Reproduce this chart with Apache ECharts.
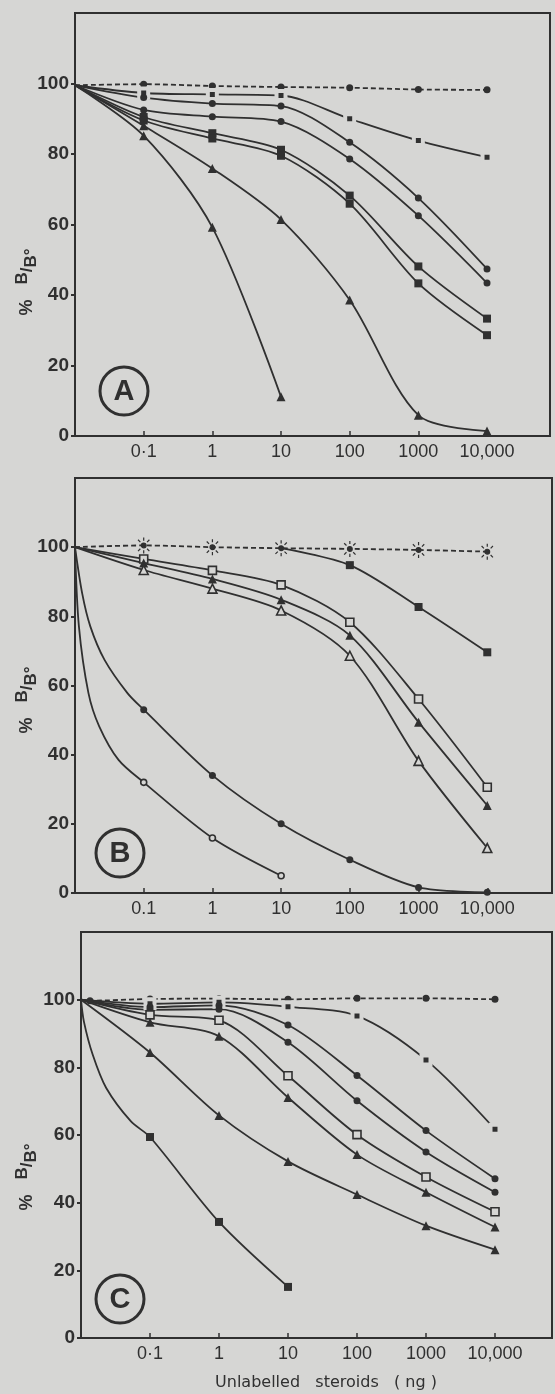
<!DOCTYPE html>
<html>
<head>
<meta charset="utf-8">
<title>% B/B0 displacement curves</title>
<script src="https://cdn.jsdelivr.net/npm/echarts@6/dist/echarts.min.js"></script>
<style>
  html, body { margin: 0; padding: 0; background: #d6d6d4; }
  #chart { width: 555px; height: 1394px; }
</style>
</head>
<body>
<div id="chart"></div>
<script>
const INK = '#303030';
const BG = '#d6d6d4';

// doses (ng) where the markers sit; 0.01 is the left edge (no steroid)
const MARK_X = [0.1, 1, 10, 100, 1000, 10000];
const Y_TICKS = [0, 20, 40, 60, 80, 100];
const X_LABELS_A = ['0·1', '1', '10', '100', '1000', '10,000'];
const X_LABELS_B = ['0.1', '1', '10', '100', '1000', '10,000'];
const X_LABELS_C = ['0·1', '1', '10', '100', '1000', '10,000'];

// panel A
const A_REF      = [99.8, 99.3, 99.0, 98.8, 98.3, 98.2];
const A_SQ_SMALL = [97.3, 96.9, 96.6, 90.0, 83.8, 79.1];
const A_CIRC_1   = [96.0, 94.3, 93.6, 83.3, 67.5, 47.4];
const A_CIRC_2   = [92.5, 90.6, 89.2, 78.6, 62.5, 43.4];
const A_SQ_1     = [90.5, 85.9, 81.2, 68.2, 48.1, 33.3];
const A_SQ_2     = [89.5, 84.4, 79.5, 65.9, 43.3, 28.6];
const A_TRI_1    = [88.0, 75.9, 61.4, 38.6, 5.9, 1.4];
const A_TRI_2    = [85.2, 59.2, 11.1];

// panel B
const B_REF         = [100.5, 100.0, 99.7, 99.5, 99.2, 98.7];
const B_SQ_FILLED_X = [100, 1000, 10000];
const B_SQ_FILLED   = [94.8, 82.7, 69.6];
const B_SQ_OPEN     = [96.6, 93.3, 89.1, 78.3, 56.1, 30.6];
const B_TRI_FILLED  = [95.4, 90.8, 84.8, 74.5, 49.4, 25.3];
const B_TRI_OPEN    = [93.4, 88.0, 81.7, 68.6, 38.2, 13.0];
const B_CIRC_FILLED = [53.0, 34.0, 20.0, 9.6, 1.6, 0.2];
// unmarked points along the curve, read where it leaves the axis
const B_CIRC_FILLED_PATH = [[0.0127, 86.7], [0.0167, 77.1], [0.0269, 67.4], [0.058, 57.8]];
const B_CIRC_OPEN   = [32.0, 15.9, 5.0];
const B_CIRC_OPEN_PATH = [[0.0114, 77.1], [0.0157, 57.8], [0.0225, 48.2], [0.043, 38.5]];

// panel C
const C_REF_X     = [0.0135, 0.1, 1, 10, 100, 1000, 10000];
const C_REF       = [99.7, 100.2, 100.3, 100.1, 100.4, 100.4, 100.1];
const C_SQ_SMALL  = [98.8, 99.2, 97.9, 95.2, 82.2, 61.7];
const C_CIRC_1    = [97.8, 98.3, 92.5, 77.6, 61.3, 47.1];
const C_CIRC_2    = [97.0, 97.2, 87.4, 70.1, 55.0, 43.1];
const C_SQ_OPEN   = [95.5, 93.9, 77.5, 60.1, 47.6, 37.3];
const C_TRI_1     = [93.3, 89.2, 71.1, 54.2, 43.1, 32.8];
const C_TRI_2     = [84.4, 65.8, 52.2, 42.4, 33.2, 26.1];
const C_SQ_STEEP  = [59.4, 34.3, 15.1];
const C_SQ_STEEP_PATH = [[0.011, 93.6], [0.0148, 83.7], [0.0232, 73.9], [0.053, 64.0]];

const SUN = 'path://M10,0L10,4M10,16L10,20M2.9,2.9L5.8,5.8M14.2,14.2L17.1,17.1M17.1,2.9L14.2,5.8M2.9,17.1L5.8,14.2M13,10A3,3 0 1 1 7,10A3,3 0 1 1 13,10Z';

const panels = [
  { top: 13, height: 423, left: 75, right: 5, xMax: 82600, labels: X_LABELS_A },
  { top: 478, height: 415, left: 75, right: 1, xMax: 87500, labels: X_LABELS_B },
  { top: 932, height: 406, left: 81, right: 3, xMax: 67000, labels: X_LABELS_C }
];

function curve(panel, ys, o) {
  o = o || {};
  const xs = o.xs || MARK_X;
  const data = [];
  if (o.start) data.push({ value: o.start, symbol: 'none' });
  (o.path || []).forEach(p => data.push({ value: p, symbol: 'none' }));
  ys.forEach((y, i) => data.push([xs[i], y]));
  let itemStyle = { color: INK };
  if (o.open) itemStyle = { color: BG, borderColor: INK, borderWidth: 1.6 };
  if (o.gap) itemStyle = { color: INK, borderColor: BG, borderWidth: 4 };
  if (o.stroke) itemStyle = { color: INK, borderColor: INK, borderWidth: 1.2 };
  return {
    type: 'line',
    xAxisIndex: panel,
    yAxisIndex: panel,
    data: data,
    smooth: 0.3,
    symbol: o.symbol || 'circle',
    symbolSize: o.size || 7,
    symbolKeepAspect: true,
    showAllSymbol: true,
    lineStyle: { color: INK, width: 1.8, type: o.dashed ? [5, 3] : 'solid' },
    itemStyle: itemStyle,
    silent: true
  };
}

function xFormatter(labels) {
  return function (v) {
    const l = Math.log10(v);
    const k = Math.round(l);
    if (Math.abs(l - k) > 0.01) return '';
    return labels[k + 1] || '';
  };
}

const sA = [0.01, 99.5];
const s0 = [0.01, 100];

const series = [
  curve(0, A_REF, { start: sA, dashed: true }),
  curve(0, A_SQ_SMALL, { start: sA, symbol: 'rect', size: 9, gap: true }),
  curve(0, A_CIRC_1, { start: sA }),
  curve(0, A_CIRC_2, { start: sA }),
  curve(0, A_SQ_1, { start: sA, symbol: 'rect', size: 8 }),
  curve(0, A_SQ_2, { start: sA, symbol: 'rect', size: 8 }),
  curve(0, A_TRI_1, { start: sA, symbol: 'triangle', size: 9 }),
  curve(0, A_TRI_2, { start: sA, symbol: 'triangle', size: 9 }),

  curve(1, B_REF, { start: s0, dashed: true, symbol: SUN, size: 16, stroke: true }),
  curve(1, B_SQ_FILLED, { start: [10, 99.7], xs: B_SQ_FILLED_X, symbol: 'rect', size: 8 }),
  curve(1, B_SQ_OPEN, { start: s0, symbol: 'rect', size: 8, open: true }),
  curve(1, B_TRI_FILLED, { start: s0, symbol: 'triangle', size: 9 }),
  curve(1, B_TRI_OPEN, { start: s0, symbol: 'triangle', size: 9, open: true }),
  curve(1, B_CIRC_FILLED, { start: s0, path: B_CIRC_FILLED_PATH }),
  curve(1, B_CIRC_OPEN, { start: s0, path: B_CIRC_OPEN_PATH, size: 6, open: true }),

  curve(2, C_REF, { start: s0, xs: C_REF_X, dashed: true }),
  curve(2, C_SQ_SMALL, { start: s0, symbol: 'rect', size: 9, gap: true }),
  curve(2, C_CIRC_1, { start: s0 }),
  curve(2, C_CIRC_2, { start: s0 }),
  curve(2, C_SQ_OPEN, { start: s0, symbol: 'rect', size: 8, open: true }),
  curve(2, C_TRI_1, { start: s0, symbol: 'triangle', size: 9 }),
  curve(2, C_TRI_2, { start: s0, symbol: 'triangle', size: 9 }),
  curve(2, C_SQ_STEEP, { start: s0, path: C_SQ_STEEP_PATH, symbol: 'rect', size: 8 })
];

function panelLetter(letter, cx, cy) {
  return {
    type: 'group',
    children: [
      { type: 'circle', shape: { cx: cx, cy: cy, r: 24 }, style: { fill: 'none', stroke: INK, lineWidth: 3 } },
      { type: 'text', x: cx, y: cy + 1, style: { text: letter, fill: INK, font: 'bold 29px "Liberation Sans"', align: 'center', verticalAlign: 'middle' } }
    ]
  };
}

function yName(cy) {
  return {
    type: 'text',
    x: 27,
    y: cy,
    rotation: Math.PI / 2,
    style: {
      text: '{p|%   }{u|B}{s|/}{d|B°}',
      align: 'center',
      verticalAlign: 'middle',
      fill: INK,
      rich: {
        p: { font: 'bold 18px "Liberation Sans"', lineHeight: 26, fill: INK },
        u: { font: 'bold 17px "Liberation Sans"', verticalAlign: 'top', fill: INK },
        s: { font: 'bold 17px "Liberation Sans"', fill: INK },
        d: { font: 'bold 17px "Liberation Sans"', verticalAlign: 'bottom', fill: INK }
      }
    }
  };
}

const chart = echarts.init(document.getElementById('chart'), null, { renderer: 'canvas' });
chart.setOption({
  animation: false,
  backgroundColor: BG,
  grid: panels.map(p => ({
    top: p.top, height: p.height, left: p.left, right: p.right,
    show: true, borderColor: INK, borderWidth: 2, backgroundColor: 'transparent'
  })),
  xAxis: panels.map((p, i) => ({
    type: 'log',
    logBase: 10,
    gridIndex: i,
    min: 0.01,
    max: p.xMax,
    interval: 1,
    axisLine: { lineStyle: { color: INK, width: 2 } },
    axisTick: { inside: true, length: 5, lineStyle: { color: INK, width: 1.5 } },
    axisLabel: { formatter: xFormatter(p.labels), margin: 7, color: INK, fontSize: 18, fontFamily: 'Liberation Sans' },
    splitLine: { show: false },
    minorTick: { show: false }
  })),
  yAxis: panels.map((p, i) => ({
    type: 'value',
    gridIndex: i,
    min: 0,
    max: 120,
    interval: 20,
    axisLine: { show: true, lineStyle: { color: INK, width: 2 } },
    axisTick: { show: true, inside: false, length: 4, customValues: Y_TICKS, lineStyle: { color: INK, width: 2 } },
    axisLabel: {
      customValues: Y_TICKS,
      formatter: v => (v > 100 ? '' : String(v)),
      margin: 6, color: INK, fontSize: 19, fontWeight: 'bold', fontFamily: 'Liberation Sans'
    },
    splitLine: { show: false }
  })),
  graphic: [
    panelLetter('A', 124, 391),
    panelLetter('B', 120, 853),
    panelLetter('C', 120, 1299),
    yName(282),
    yName(700),
    yName(1177),
    {
      type: 'text', x: 326, y: 1383,
      style: { text: 'Unlabelled   steroids   ( ng )', fill: INK, font: '16px "DejaVu Sans"', align: 'center', verticalAlign: 'middle' }
    }
  ],
  series: series
});
</script>
</body>
</html>
